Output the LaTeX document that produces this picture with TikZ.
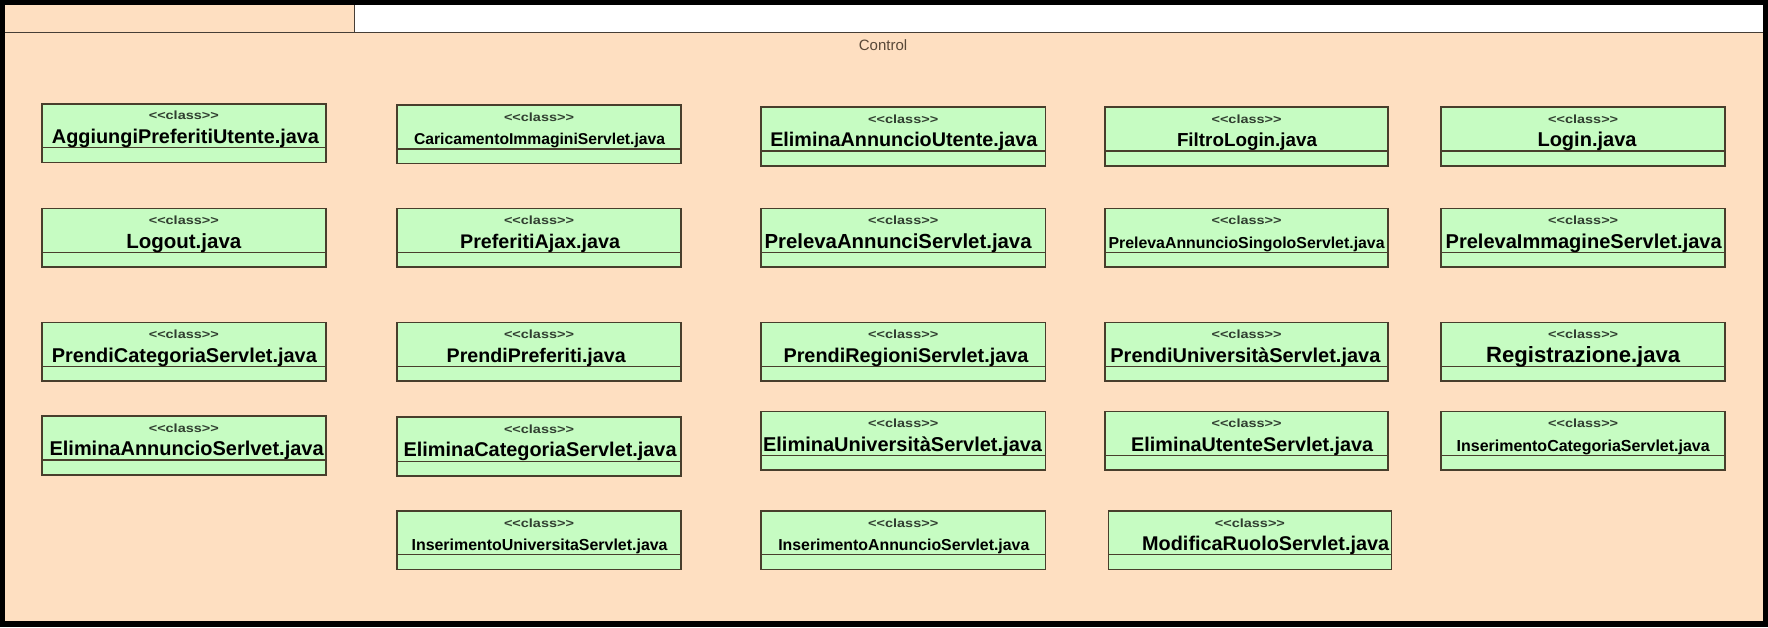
\documentclass[tikz,border=0pt]{standalone}
\usepackage{fontspec}
\setmainfont{Liberation Sans}
\usepackage{graphicx}
\definecolor{peach}{RGB}{254,223,193}
\definecolor{boxfill}{RGB}{198,252,194}
\definecolor{boxline}{RGB}{72,62,44}
\definecolor{frameline}{RGB}{70,62,54}
\definecolor{stereocol}{RGB}{48,62,48}
\definecolor{labelcol}{RGB}{88,72,56}
\tikzset{
  classbox/.style={draw=boxline, fill=boxfill, line width=1.6pt, inner sep=0pt, outer sep=0pt},
  sepline/.style={draw=boxline, line width=1.3pt},
  stereo/.style={inner sep=0pt, text=stereocol, font=\bfseries},
  cname/.style={inner sep=0pt, text=black, font=\bfseries},
  pkgline/.style={draw=frameline, line width=1.5pt}
}
\newcommand\stereotxt{\mbox{<}\kern0pt\mbox{<}class\mbox{>}\kern0pt\mbox{>}}
% #1 id, #2 left, #3 right, #4 top, #5 text centre x, #6 text width, #7 name
\newcommand\umlclass[7]{%
  \node[classbox, anchor=north west, minimum width={#3pt-#2pt}, minimum height=58.6pt] (#1) at (#2,#4) {};
  \draw[sepline] ([yshift=-44pt]#1.north west) -- ([yshift=-44pt]#1.north east);
  \node[stereo] (#1s) at ([yshift=-12pt]#1.north) {\resizebox{70pt}{8.6pt}{\stereotxt}};
  \node[cname, anchor=base] (#1n) at (#5,#4+39.5) {\resizebox{#6pt}{!}{#7}};
}
\begin{document}
\begin{tikzpicture}[x=1pt,y=-1pt]
\useasboundingbox (0,0) rectangle (1768,627);
\fill[black] (0,0) rectangle (1768,627);
\fill[peach] (5.3,5.3) rectangle (1762.5,620.5);
\fill[white] (354,5.3) rectangle (1762.5,32.7);
\coordinate (tl) at (5.3,32.7);
\coordinate (tr) at (1762.5,32.7);
\coordinate (tabtop) at (354,5.3);
\coordinate (tabbot) at (354,32.7);
\draw[pkgline] (tl) -- (tr);
\draw[pkgline, line width=1pt] (tabtop) -- (tabbot);
\node[text=labelcol, font=\fontsize{15}{15}\selectfont, anchor=base] (ctl) at (883,50) {Control};

% row 1
\umlclass{a1}{41.7}{325.9}{103.7}{185.5}{267}{AggiungiPreferitiUtente.java}
\umlclass{a2}{396.9}{681.1}{104.9}{539.6}{251}{CaricamentoImmaginiServlet.java}
\umlclass{a3}{761.1}{1045.3}{107.1}{903.8}{267}{EliminaAnnuncioUtente.java}
\umlclass{a4}{1105.0}{1388.1}{107.1}{1247}{140}{FiltroLogin.java}
\umlclass{a5}{1441.1}{1725.2}{107.1}{1587}{99}{Login.java}
% row 2
\umlclass{b1}{41.7}{325.9}{208.6}{183.8}{115}{Logout.java}
\umlclass{b2}{396.9}{681.1}{208.6}{540.1}{160}{PreferitiAjax.java}
\umlclass{b3}{761.1}{1045.3}{208.6}{898.1}{267}{PrelevaAnnunciServlet.java}
\umlclass{b4}{1105.0}{1388.1}{208.6}{1246.6}{276}{PrelevaAnnuncioSingoloServlet.java}
\umlclass{b5}{1441.1}{1725.2}{208.6}{1583.7}{276}{PrelevaImmagineServlet.java}
% row 3
\umlclass{c1}{41.7}{325.9}{322.5}{184.4}{265}{PrendiCategoriaServlet.java}
\umlclass{c2}{396.9}{681.1}{322.5}{536.2}{179}{PrendiPreferiti.java}
\umlclass{c3}{761.1}{1045.3}{322.5}{906}{245}{PrendiRegioniServlet.java}
\umlclass{c4}{1105.0}{1388.1}{322.5}{1245.4}{270}{PrendiUniversitàServlet.java}
\umlclass{c5}{1441.1}{1725.2}{322.5}{1583.2}{194}{Registrazione.java}
% row 4
\umlclass{d1}{41.7}{325.9}{416.1}{186.6}{274}{EliminaAnnuncioSerlvet.java}
\umlclass{d2}{396.9}{681.1}{417.2}{540.1}{273}{EliminaCategoriaServlet.java}
\umlclass{d3}{761.1}{1045.3}{411.6}{902.6}{279}{EliminaUniversitàServlet.java}
\umlclass{d4}{1105.0}{1388.1}{411.6}{1252.2}{242}{EliminaUtenteServlet.java}
\umlclass{d5}{1441.1}{1725.2}{411.6}{1583.2}{253}{InserimentoCategoriaServlet.java}
% row 5
\umlclass{e2}{396.9}{681.1}{510.8}{539.6}{256}{InserimentoUniversitaServlet.java}
\umlclass{e3}{761.1}{1045.3}{510.8}{903.8}{251}{InserimentoAnnuncioServlet.java}
\umlclass{e4}{1108.4}{1391.4}{510.8}{1265.7}{247}{ModificaRuoloServlet.java}
\end{tikzpicture}
\end{document}
